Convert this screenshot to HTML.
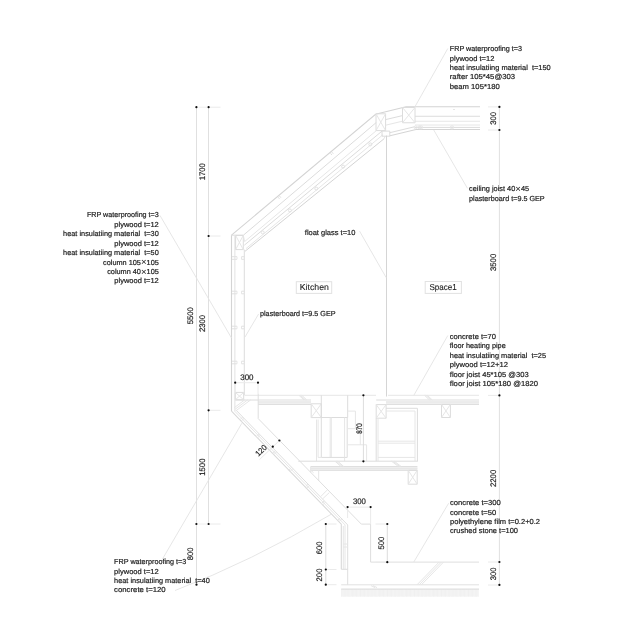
<!DOCTYPE html>
<html><head><meta charset="utf-8"><title>section</title>
<style>
html,body{margin:0;padding:0;background:#fff;}
body{width:640px;height:642px;overflow:hidden;font-family:"Liberation Sans",sans-serif;}
svg{display:block;will-change:transform;filter:grayscale(1);}
text{font-family:"Liberation Sans",sans-serif;text-rendering:geometricPrecision;}
</style></head><body>
<svg width="640" height="642" viewBox="0 0 640 642">
<rect width="640" height="642" fill="#fff"/>
<g fill="none" stroke="#dcdcdc" stroke-width="1">
<line x1="196.50" y1="107.20" x2="196.50" y2="584.70" stroke="#e0e0e0"/>
<line x1="208.50" y1="107.20" x2="208.50" y2="524.00" stroke="#e0e0e0"/>
<line x1="210.00" y1="107.20" x2="220.50" y2="107.20" stroke="#eaeaea"/>
<line x1="210.00" y1="236.00" x2="220.50" y2="236.00" stroke="#eaeaea"/>
<line x1="210.00" y1="410.30" x2="220.50" y2="410.30" stroke="#eaeaea"/>
<line x1="210.00" y1="524.00" x2="220.50" y2="524.00" stroke="#eaeaea"/>
<line x1="198.50" y1="107.20" x2="207.00" y2="107.20" stroke="#eeeeee"/>
<line x1="198.50" y1="524.00" x2="207.00" y2="524.00" stroke="#eeeeee"/>
<line x1="499.40" y1="106.90" x2="499.40" y2="585.00" stroke="#e0e0e0"/>
<line x1="488.00" y1="106.90" x2="498.00" y2="106.90" stroke="#eaeaea"/>
<line x1="488.00" y1="130.00" x2="498.00" y2="130.00" stroke="#eaeaea"/>
<line x1="488.00" y1="395.40" x2="498.00" y2="395.40" stroke="#eaeaea"/>
<line x1="488.00" y1="562.00" x2="498.00" y2="562.00" stroke="#eaeaea"/>
<line x1="488.00" y1="585.00" x2="498.00" y2="585.00" stroke="#eaeaea"/>
</g>
<g fill="none" stroke="#dcdcdc" stroke-width="1">
<path d="M231.50 235.20 L375.60 114.30 L406.00 106.80 L480.00 106.80" stroke="#d4d4d4" stroke-width="1.1"/>
<line x1="243.40" y1="235.20" x2="376.25" y2="122.50"/>
<line x1="244.60" y1="241.60" x2="376.25" y2="130.70" stroke="#e6e6e6"/>
<line x1="244.30" y1="245.20" x2="382.00" y2="131.10"/>
<line x1="246.00" y1="248.60" x2="383.10" y2="134.60" stroke="#e6e6e6"/>
<line x1="244.90" y1="251.40" x2="383.90" y2="138.90" stroke="#d4d4d4"/>
<line x1="383.90" y1="138.90" x2="385.20" y2="136.20" stroke="#e6e6e6"/>
<circle cx="262.7" cy="232.4" r="1.5" stroke="#e2e2e2"/>
<circle cx="289.9" cy="210.4" r="1.5" stroke="#e2e2e2"/>
<circle cx="316.3" cy="188.6" r="1.5" stroke="#e2e2e2"/>
<circle cx="343.1" cy="166.6" r="1.5" stroke="#e2e2e2"/>
<circle cx="370.3" cy="144.4" r="1.5" stroke="#e2e2e2"/>
<line x1="278.10" y1="197.20" x2="279.50" y2="198.90" stroke="#e0e0e0"/>
<line x1="279.50" y1="196.00" x2="280.90" y2="197.70" stroke="#e0e0e0"/>
<line x1="330.50" y1="153.30" x2="331.90" y2="155.00" stroke="#e0e0e0"/>
<line x1="331.90" y1="152.10" x2="333.30" y2="153.80" stroke="#e0e0e0"/>
<line x1="415.00" y1="116.25" x2="480.00" y2="116.25"/>
<line x1="415.00" y1="121.25" x2="480.00" y2="121.25" stroke="#e6e6e6"/>
<line x1="415.00" y1="125.00" x2="480.00" y2="125.00" stroke="#e6e6e6"/>
<line x1="415.00" y1="127.40" x2="480.00" y2="127.40"/>
<line x1="415.00" y1="129.50" x2="480.00" y2="129.50" stroke="#d4d4d4"/>
<circle cx="421" cy="127.4" r="1.6" stroke="#e6e6e6"/>
<circle cx="452" cy="127.4" r="1.6" stroke="#e6e6e6"/>
<line x1="453.00" y1="109.50" x2="455.00" y2="109.50" stroke="#e6e6e6"/>
<path d="M402.50 107.50 L415.00 107.50 L415.00 122.75 L402.50 122.75 Z"/>
<line x1="402.50" y1="107.50" x2="415.00" y2="122.75" stroke="#e6e6e6"/>
<line x1="402.50" y1="122.75" x2="415.00" y2="107.50" stroke="#e6e6e6"/>
<path d="M376.00 113.80 L385.60 113.80 L385.60 130.60 L376.00 130.60 Z"/>
<line x1="376.00" y1="113.80" x2="385.60" y2="130.60" stroke="#e6e6e6"/>
<line x1="376.00" y1="130.60" x2="385.60" y2="113.80" stroke="#e6e6e6"/>
<line x1="385.60" y1="119.60" x2="402.50" y2="115.60"/>
<line x1="385.60" y1="125.20" x2="402.50" y2="121.20" stroke="#e6e6e6"/>
<path d="M382.00 131.10 L389.80 131.10 L389.80 136.20 L382.00 136.20 Z"/>
<path d="M389.80 132.70 L414.00 126.90 L415.00 126.90"/>
<path d="M389.80 135.80 L416.00 129.50" stroke="#d4d4d4"/>
<circle cx="415.6" cy="127.4" r="1.5" stroke="#e6e6e6"/><circle cx="419.3" cy="127.4" r="1.5" stroke="#e6e6e6"/>
<line x1="386.50" y1="135.60" x2="386.50" y2="396.50" stroke="#d5d5d5"/>
<line x1="231.50" y1="235.20" x2="231.50" y2="411.20" stroke="#d4d4d4" stroke-width="1.1"/>
<line x1="234.90" y1="236.00" x2="234.90" y2="411.40" stroke="#e2e2e2"/>
<line x1="244.30" y1="249.60" x2="244.30" y2="395.20" stroke="#dddddd"/>
<line x1="231.50" y1="235.20" x2="243.40" y2="235.20"/>
<path d="M235.60 235.40 L243.30 235.40 L243.30 249.60 L235.60 249.60 Z"/>
<line x1="235.60" y1="235.40" x2="243.30" y2="249.60" stroke="#e6e6e6"/>
<line x1="235.60" y1="249.60" x2="243.30" y2="235.40" stroke="#e6e6e6"/>
<line x1="243.30" y1="235.40" x2="244.60" y2="241.60" stroke="#e6e6e6"/>
<line x1="232.00" y1="256.70" x2="237.00" y2="256.70" stroke="#e0e0e0"/>
<line x1="241.50" y1="256.70" x2="244.30" y2="256.70" stroke="#e0e0e0"/>
<line x1="232.00" y1="259.30" x2="237.00" y2="259.30" stroke="#e0e0e0"/>
<line x1="241.50" y1="259.30" x2="244.30" y2="259.30" stroke="#e0e0e0"/>
<line x1="237.00" y1="256.70" x2="237.00" y2="259.30" stroke="#e6e6e6"/>
<line x1="241.50" y1="256.70" x2="241.50" y2="259.30" stroke="#e6e6e6"/>
<line x1="232.00" y1="291.20" x2="237.00" y2="291.20" stroke="#e0e0e0"/>
<line x1="241.50" y1="291.20" x2="244.30" y2="291.20" stroke="#e0e0e0"/>
<line x1="232.00" y1="293.80" x2="237.00" y2="293.80" stroke="#e0e0e0"/>
<line x1="241.50" y1="293.80" x2="244.30" y2="293.80" stroke="#e0e0e0"/>
<line x1="237.00" y1="291.20" x2="237.00" y2="293.80" stroke="#e6e6e6"/>
<line x1="241.50" y1="291.20" x2="241.50" y2="293.80" stroke="#e6e6e6"/>
<line x1="232.00" y1="326.20" x2="237.00" y2="326.20" stroke="#e0e0e0"/>
<line x1="241.50" y1="326.20" x2="244.30" y2="326.20" stroke="#e0e0e0"/>
<line x1="232.00" y1="328.80" x2="237.00" y2="328.80" stroke="#e0e0e0"/>
<line x1="241.50" y1="328.80" x2="244.30" y2="328.80" stroke="#e0e0e0"/>
<line x1="237.00" y1="326.20" x2="237.00" y2="328.80" stroke="#e6e6e6"/>
<line x1="241.50" y1="326.20" x2="241.50" y2="328.80" stroke="#e6e6e6"/>
<line x1="232.00" y1="361.20" x2="237.00" y2="361.20" stroke="#e0e0e0"/>
<line x1="241.50" y1="361.20" x2="244.30" y2="361.20" stroke="#e0e0e0"/>
<line x1="232.00" y1="363.80" x2="237.00" y2="363.80" stroke="#e0e0e0"/>
<line x1="241.50" y1="363.80" x2="244.30" y2="363.80" stroke="#e0e0e0"/>
<line x1="237.00" y1="361.20" x2="237.00" y2="363.80" stroke="#e6e6e6"/>
<line x1="241.50" y1="361.20" x2="241.50" y2="363.80" stroke="#e6e6e6"/>
<line x1="244.60" y1="395.30" x2="376.00" y2="395.30" stroke="#e6e6e6"/>
<line x1="388.00" y1="395.30" x2="479.00" y2="395.30" stroke="#e6e6e6"/>
<line x1="235.40" y1="400.00" x2="311.00" y2="400.00"/>
<line x1="376.20" y1="400.00" x2="479.00" y2="400.00"/>
<rect x="258.2" y="400.6" width="52.8" height="3.9" fill="#f1f1f1" stroke="none"/>
<rect x="386" y="400.6" width="93" height="3.9" fill="#f1f1f1" stroke="none"/>
<line x1="258.20" y1="404.40" x2="311.00" y2="404.40"/>
<line x1="386.00" y1="404.40" x2="479.00" y2="404.40"/>
<line x1="258.20" y1="402.00" x2="311.00" y2="402.00" stroke="#e6e6e6"/>
<line x1="386.00" y1="402.00" x2="479.00" y2="402.00" stroke="#e6e6e6"/>
<path d="M235.30 392.40 L243.70 392.40 L243.70 399.80 L235.30 399.80 Z"/>
<line x1="235.30" y1="392.40" x2="243.70" y2="399.80" stroke="#e6e6e6"/>
<line x1="235.30" y1="399.80" x2="243.70" y2="392.40" stroke="#e6e6e6"/>
<path d="M311.20 403.80 L321.30 403.80 L321.30 417.60 L311.20 417.60 Z"/>
<line x1="311.20" y1="403.80" x2="321.30" y2="417.60" stroke="#e6e6e6"/>
<line x1="311.20" y1="417.60" x2="321.30" y2="403.80" stroke="#e6e6e6"/>
<path d="M376.20 404.60 L386.10 404.60 L386.10 418.20 L376.20 418.20 Z"/>
<line x1="376.20" y1="404.60" x2="386.10" y2="418.20" stroke="#e6e6e6"/>
<line x1="376.20" y1="418.20" x2="386.10" y2="404.60" stroke="#e6e6e6"/>
<path d="M441.50 404.40 L450.40 404.40 L450.40 417.50 L441.50 417.50 Z"/>
<line x1="441.50" y1="404.40" x2="450.40" y2="417.50" stroke="#e6e6e6"/>
<line x1="441.50" y1="417.50" x2="450.40" y2="404.40" stroke="#e6e6e6"/>
<path d="M321.30 395.30 L321.30 417.50 L347.70 417.50 L347.70 395.30"/>
<line x1="321.30" y1="417.50" x2="321.30" y2="457.40" stroke="#dcdcdc"/>
<line x1="330.20" y1="417.50" x2="330.20" y2="457.40" stroke="#e6e6e6"/>
<line x1="331.30" y1="417.50" x2="331.30" y2="457.40" stroke="#e6e6e6"/>
<line x1="344.60" y1="417.50" x2="344.60" y2="457.40" stroke="#e6e6e6"/>
<line x1="347.20" y1="417.50" x2="347.20" y2="457.40" stroke="#dcdcdc"/>
<line x1="321.30" y1="457.40" x2="347.20" y2="457.40"/>
<line x1="316.50" y1="419.50" x2="316.50" y2="461.20" stroke="#e6e6e6"/>
<line x1="318.10" y1="419.50" x2="318.10" y2="457.40" stroke="#e6e6e6"/>
<line x1="318.10" y1="457.40" x2="321.30" y2="457.40" stroke="#e6e6e6"/>
<line x1="344.60" y1="457.40" x2="344.60" y2="461.20" stroke="#e6e6e6"/>
<path d="M347.70 411.10 L355.40 411.10 L355.40 428.70 L347.70 428.70" stroke="#e6e6e6"/>
<path d="M360.30 428.70 L360.30 444.80" stroke="#e6e6e6"/>
<path d="M347.70 444.80 L366.60 444.80 L366.60 461.20" stroke="#e6e6e6"/>
<path d="M386.10 408.30 L417.40 408.30 L417.40 461.60"/>
<path d="M386.10 411.00 L415.00 411.00 L415.00 461.00" stroke="#e6e6e6"/>
<line x1="376.20" y1="418.20" x2="376.20" y2="461.20"/>
<line x1="378.00" y1="418.20" x2="378.00" y2="461.20" stroke="#e6e6e6"/>
<line x1="378.00" y1="441.20" x2="415.00" y2="441.20" stroke="#e6e6e6"/>
<line x1="378.00" y1="443.20" x2="415.00" y2="443.20" stroke="#e6e6e6"/>
<line x1="378.00" y1="457.40" x2="415.00" y2="457.40" stroke="#e6e6e6"/>
<line x1="298.30" y1="461.20" x2="417.40" y2="461.20"/>
<rect x="310.7" y="466.6" width="106.7" height="3.7" fill="#f1f1f1" stroke="none"/>
<line x1="310.70" y1="466.60" x2="417.40" y2="466.60"/>
<line x1="310.70" y1="468.40" x2="417.40" y2="468.40" stroke="#e6e6e6"/>
<line x1="310.70" y1="470.30" x2="417.40" y2="470.30"/>
<line x1="310.70" y1="466.60" x2="310.70" y2="472.50" stroke="#e6e6e6"/>
<line x1="318.70" y1="470.30" x2="318.70" y2="481.00" stroke="#e6e6e6"/>
<line x1="310.70" y1="470.30" x2="313.50" y2="472.60" stroke="#e6e6e6"/>
<path d="M408.20 470.30 L417.20 470.30 L417.20 484.20 L408.20 484.20 Z"/>
<line x1="408.20" y1="470.30" x2="417.20" y2="484.20" stroke="#e6e6e6"/>
<line x1="408.20" y1="484.20" x2="417.20" y2="470.30" stroke="#e6e6e6"/>
<line x1="299.00" y1="395.30" x2="304.00" y2="400.00" stroke="#e6e6e6"/>
<line x1="300.40" y1="395.30" x2="305.40" y2="400.00" stroke="#e6e6e6"/>
<line x1="301.80" y1="395.30" x2="306.80" y2="400.00" stroke="#e6e6e6"/>
<line x1="424.50" y1="395.30" x2="429.50" y2="400.00" stroke="#e6e6e6"/>
<line x1="425.90" y1="395.30" x2="430.90" y2="400.00" stroke="#e6e6e6"/>
<line x1="427.30" y1="395.30" x2="432.30" y2="400.00" stroke="#e6e6e6"/>
<line x1="335.00" y1="461.20" x2="341.00" y2="466.60" stroke="#e6e6e6"/>
<line x1="336.40" y1="461.20" x2="342.40" y2="466.60" stroke="#e6e6e6"/>
<line x1="337.80" y1="461.20" x2="343.80" y2="466.60" stroke="#e6e6e6"/>
<line x1="391.50" y1="461.20" x2="398.50" y2="466.60" stroke="#e6e6e6"/>
<line x1="392.90" y1="461.20" x2="399.90" y2="466.60" stroke="#e6e6e6"/>
<line x1="394.30" y1="461.20" x2="401.30" y2="466.60" stroke="#e6e6e6"/>
<path d="M231.50 411.20 L341.30 524.10 L341.30 569.30" stroke="#d8d8d8" stroke-width="1.05"/>
<path d="M234.90 411.40 L344.40 524.20 L345.00 525.00 L345.00 569.30" stroke="#e6e6e6"/>
<path d="M236.30 410.40 L347.70 524.90 L347.70 584.90" stroke="#dedede"/>
<path d="M258.20 393.50 L258.20 418.60 L361.30 524.10 L370.60 524.10 L370.60 562.10 L479.00 562.10" stroke="#dedede"/>
<line x1="343.30" y1="526.00" x2="343.30" y2="569.30" stroke="#e6e6e6"/>
<path d="M250.80 399.80 L235.90 410.80" stroke="#e6e6e6"/>
<path d="M247.70 399.80 L235.20 409.20" stroke="#e6e6e6"/>
<path d="M244.80 399.80 L234.40 407.60" stroke="#e6e6e6"/>
<line x1="341.30" y1="569.30" x2="347.70" y2="569.30"/>
<line x1="343.30" y1="544.00" x2="347.70" y2="544.00" stroke="#e6e6e6"/>
<line x1="343.30" y1="547.00" x2="347.70" y2="547.00" stroke="#e6e6e6"/>
<line x1="327.10" y1="490.10" x2="320.60" y2="496.70" stroke="#e6e6e6"/>
<line x1="329.30" y1="492.60" x2="322.70" y2="498.80" stroke="#e6e6e6"/>
<line x1="239.90" y1="419.84" x2="242.70" y2="417.04" stroke="#e6e6e6"/>
<line x1="241.20" y1="421.14" x2="244.00" y2="418.34" stroke="#e6e6e6"/>
<line x1="256.20" y1="436.60" x2="259.00" y2="433.80" stroke="#e6e6e6"/>
<line x1="257.50" y1="437.90" x2="260.30" y2="435.10" stroke="#e6e6e6"/>
<line x1="272.50" y1="453.36" x2="275.30" y2="450.56" stroke="#e6e6e6"/>
<line x1="273.80" y1="454.66" x2="276.60" y2="451.86" stroke="#e6e6e6"/>
<line x1="288.80" y1="470.12" x2="291.60" y2="467.32" stroke="#e6e6e6"/>
<line x1="290.10" y1="471.42" x2="292.90" y2="468.62" stroke="#e6e6e6"/>
<line x1="305.20" y1="486.98" x2="308.00" y2="484.18" stroke="#e6e6e6"/>
<line x1="306.50" y1="488.28" x2="309.30" y2="485.48" stroke="#e6e6e6"/>
<line x1="321.40" y1="503.64" x2="324.20" y2="500.84" stroke="#e6e6e6"/>
<line x1="322.70" y1="504.94" x2="325.50" y2="502.14" stroke="#e6e6e6"/>
<line x1="337.70" y1="520.39" x2="340.50" y2="517.59" stroke="#e6e6e6"/>
<line x1="339.00" y1="521.69" x2="341.80" y2="518.89" stroke="#e6e6e6"/>
<line x1="341.20" y1="584.80" x2="479.00" y2="584.80" stroke="#e2e2e2"/>
<rect x="341.2" y="589.4" width="137.8" height="7.3" fill="#f9f9f9" stroke="none"/>
<line x1="443.50" y1="562.10" x2="421.30" y2="584.90" stroke="#e6e6e6"/>
<line x1="441.30" y1="562.10" x2="419.10" y2="584.90" stroke="#e6e6e6"/>
<line x1="439.10" y1="562.10" x2="416.90" y2="584.90" stroke="#e6e6e6"/>
<line x1="371.00" y1="585.60" x2="375.00" y2="587.60" stroke="#e6e6e6"/>
<line x1="373.00" y1="585.60" x2="377.00" y2="587.60" stroke="#e6e6e6"/>
</g>
<g stroke="#e9e9e9" stroke-width="0.55">
<line x1="341.60" y1="589.40" x2="341.60" y2="596.70"/>
<line x1="342.95" y1="589.40" x2="342.95" y2="596.70"/>
<line x1="344.30" y1="589.40" x2="344.30" y2="596.70"/>
<line x1="345.65" y1="589.40" x2="345.65" y2="596.70"/>
<line x1="347.00" y1="589.40" x2="347.00" y2="596.70"/>
<line x1="348.35" y1="589.40" x2="348.35" y2="596.70"/>
<line x1="349.70" y1="589.40" x2="349.70" y2="596.70"/>
<line x1="351.05" y1="589.40" x2="351.05" y2="596.70"/>
<line x1="352.40" y1="589.40" x2="352.40" y2="596.70"/>
<line x1="353.75" y1="589.40" x2="353.75" y2="596.70"/>
<line x1="355.10" y1="589.40" x2="355.10" y2="596.70"/>
<line x1="356.45" y1="589.40" x2="356.45" y2="596.70"/>
<line x1="357.80" y1="589.40" x2="357.80" y2="596.70"/>
<line x1="359.15" y1="589.40" x2="359.15" y2="596.70"/>
<line x1="360.50" y1="589.40" x2="360.50" y2="596.70"/>
<line x1="361.85" y1="589.40" x2="361.85" y2="596.70"/>
<line x1="363.20" y1="589.40" x2="363.20" y2="596.70"/>
<line x1="364.55" y1="589.40" x2="364.55" y2="596.70"/>
<line x1="365.90" y1="589.40" x2="365.90" y2="596.70"/>
<line x1="367.25" y1="589.40" x2="367.25" y2="596.70"/>
<line x1="368.60" y1="589.40" x2="368.60" y2="596.70"/>
<line x1="369.95" y1="589.40" x2="369.95" y2="596.70"/>
<line x1="371.30" y1="589.40" x2="371.30" y2="596.70"/>
<line x1="372.65" y1="589.40" x2="372.65" y2="596.70"/>
<line x1="374.00" y1="589.40" x2="374.00" y2="596.70"/>
<line x1="375.35" y1="589.40" x2="375.35" y2="596.70"/>
<line x1="376.70" y1="589.40" x2="376.70" y2="596.70"/>
<line x1="378.05" y1="589.40" x2="378.05" y2="596.70"/>
<line x1="379.40" y1="589.40" x2="379.40" y2="596.70"/>
<line x1="380.75" y1="589.40" x2="380.75" y2="596.70"/>
<line x1="382.10" y1="589.40" x2="382.10" y2="596.70"/>
<line x1="383.45" y1="589.40" x2="383.45" y2="596.70"/>
<line x1="384.80" y1="589.40" x2="384.80" y2="596.70"/>
<line x1="386.15" y1="589.40" x2="386.15" y2="596.70"/>
<line x1="387.50" y1="589.40" x2="387.50" y2="596.70"/>
<line x1="388.85" y1="589.40" x2="388.85" y2="596.70"/>
<line x1="390.20" y1="589.40" x2="390.20" y2="596.70"/>
<line x1="391.55" y1="589.40" x2="391.55" y2="596.70"/>
<line x1="392.90" y1="589.40" x2="392.90" y2="596.70"/>
<line x1="394.25" y1="589.40" x2="394.25" y2="596.70"/>
<line x1="395.60" y1="589.40" x2="395.60" y2="596.70"/>
<line x1="396.95" y1="589.40" x2="396.95" y2="596.70"/>
<line x1="398.30" y1="589.40" x2="398.30" y2="596.70"/>
<line x1="399.65" y1="589.40" x2="399.65" y2="596.70"/>
<line x1="401.00" y1="589.40" x2="401.00" y2="596.70"/>
<line x1="402.35" y1="589.40" x2="402.35" y2="596.70"/>
<line x1="403.70" y1="589.40" x2="403.70" y2="596.70"/>
<line x1="405.05" y1="589.40" x2="405.05" y2="596.70"/>
<line x1="406.40" y1="589.40" x2="406.40" y2="596.70"/>
<line x1="407.75" y1="589.40" x2="407.75" y2="596.70"/>
<line x1="409.10" y1="589.40" x2="409.10" y2="596.70"/>
<line x1="410.45" y1="589.40" x2="410.45" y2="596.70"/>
<line x1="411.80" y1="589.40" x2="411.80" y2="596.70"/>
<line x1="413.15" y1="589.40" x2="413.15" y2="596.70"/>
<line x1="414.50" y1="589.40" x2="414.50" y2="596.70"/>
<line x1="415.85" y1="589.40" x2="415.85" y2="596.70"/>
<line x1="417.20" y1="589.40" x2="417.20" y2="596.70"/>
<line x1="418.55" y1="589.40" x2="418.55" y2="596.70"/>
<line x1="419.90" y1="589.40" x2="419.90" y2="596.70"/>
<line x1="421.25" y1="589.40" x2="421.25" y2="596.70"/>
<line x1="422.60" y1="589.40" x2="422.60" y2="596.70"/>
<line x1="423.95" y1="589.40" x2="423.95" y2="596.70"/>
<line x1="425.30" y1="589.40" x2="425.30" y2="596.70"/>
<line x1="426.65" y1="589.40" x2="426.65" y2="596.70"/>
<line x1="428.00" y1="589.40" x2="428.00" y2="596.70"/>
<line x1="429.35" y1="589.40" x2="429.35" y2="596.70"/>
<line x1="430.70" y1="589.40" x2="430.70" y2="596.70"/>
<line x1="432.05" y1="589.40" x2="432.05" y2="596.70"/>
<line x1="433.40" y1="589.40" x2="433.40" y2="596.70"/>
<line x1="434.75" y1="589.40" x2="434.75" y2="596.70"/>
<line x1="436.10" y1="589.40" x2="436.10" y2="596.70"/>
<line x1="437.45" y1="589.40" x2="437.45" y2="596.70"/>
<line x1="438.80" y1="589.40" x2="438.80" y2="596.70"/>
<line x1="440.15" y1="589.40" x2="440.15" y2="596.70"/>
<line x1="441.50" y1="589.40" x2="441.50" y2="596.70"/>
<line x1="442.85" y1="589.40" x2="442.85" y2="596.70"/>
<line x1="444.20" y1="589.40" x2="444.20" y2="596.70"/>
<line x1="445.55" y1="589.40" x2="445.55" y2="596.70"/>
<line x1="446.90" y1="589.40" x2="446.90" y2="596.70"/>
<line x1="448.25" y1="589.40" x2="448.25" y2="596.70"/>
<line x1="449.60" y1="589.40" x2="449.60" y2="596.70"/>
<line x1="450.95" y1="589.40" x2="450.95" y2="596.70"/>
<line x1="452.30" y1="589.40" x2="452.30" y2="596.70"/>
<line x1="453.65" y1="589.40" x2="453.65" y2="596.70"/>
<line x1="455.00" y1="589.40" x2="455.00" y2="596.70"/>
<line x1="456.35" y1="589.40" x2="456.35" y2="596.70"/>
<line x1="457.70" y1="589.40" x2="457.70" y2="596.70"/>
<line x1="459.05" y1="589.40" x2="459.05" y2="596.70"/>
<line x1="460.40" y1="589.40" x2="460.40" y2="596.70"/>
<line x1="461.75" y1="589.40" x2="461.75" y2="596.70"/>
<line x1="463.10" y1="589.40" x2="463.10" y2="596.70"/>
<line x1="464.45" y1="589.40" x2="464.45" y2="596.70"/>
<line x1="465.80" y1="589.40" x2="465.80" y2="596.70"/>
<line x1="467.15" y1="589.40" x2="467.15" y2="596.70"/>
<line x1="468.50" y1="589.40" x2="468.50" y2="596.70"/>
<line x1="469.85" y1="589.40" x2="469.85" y2="596.70"/>
<line x1="471.20" y1="589.40" x2="471.20" y2="596.70"/>
<line x1="472.55" y1="589.40" x2="472.55" y2="596.70"/>
<line x1="473.90" y1="589.40" x2="473.90" y2="596.70"/>
<line x1="475.25" y1="589.40" x2="475.25" y2="596.70"/>
<line x1="476.60" y1="589.40" x2="476.60" y2="596.70"/>
<line x1="477.95" y1="589.40" x2="477.95" y2="596.70"/>
</g>
<line x1="341.2" y1="589.1" x2="479" y2="589.1" stroke="#d8d8d8" stroke-width="1"/>
<g fill="none" stroke="#eaeaea" stroke-width="1">
<line x1="237.00" y1="382.70" x2="256.50" y2="382.70"/>
<line x1="235.20" y1="384.20" x2="235.20" y2="392.00"/>
<line x1="258.00" y1="384.20" x2="258.00" y2="393.50"/>
<line x1="363.40" y1="396.80" x2="363.40" y2="460.00" stroke="#dddddd"/>
<line x1="349.20" y1="507.10" x2="369.00" y2="507.10"/>
<line x1="347.60" y1="508.60" x2="347.60" y2="518.00"/>
<line x1="370.60" y1="508.60" x2="370.60" y2="524.00"/>
<line x1="325.80" y1="524.00" x2="325.80" y2="584.70" stroke="#dddddd"/>
<line x1="327.30" y1="524.00" x2="336.50" y2="524.00"/>
<line x1="327.30" y1="569.50" x2="336.50" y2="569.50"/>
<line x1="327.30" y1="584.70" x2="336.50" y2="584.70"/>
<line x1="387.30" y1="524.00" x2="387.30" y2="562.20" stroke="#dddddd"/>
<line x1="375.50" y1="524.00" x2="385.80" y2="524.00"/>
<line x1="375.50" y1="562.20" x2="385.80" y2="562.20"/>
<line x1="278.40" y1="441.50" x2="259.50" y2="459.60"/>
</g>
<g fill="none" stroke="#e3e3e3" stroke-width="0.9">
<line x1="160.00" y1="215.50" x2="231.50" y2="338.00"/>
<line x1="258.60" y1="314.00" x2="245.00" y2="337.00"/>
<line x1="447.80" y1="48.50" x2="414.50" y2="107.50"/>
<line x1="467.50" y1="188.40" x2="433.75" y2="130.00"/>
<line x1="359.60" y1="231.20" x2="386.20" y2="277.60"/>
<line x1="447.80" y1="335.50" x2="413.80" y2="395.40"/>
<line x1="448.60" y1="503.30" x2="413.80" y2="562.00"/>
<line x1="162.30" y1="559.30" x2="241.80" y2="423.30"/>
<path d="M175 590.5 Q 250 562 331.7 514"/>
</g>
<circle cx="196.40" cy="107.20" r="1.12" fill="#0c0c0c" stroke="none"/>
<circle cx="208.60" cy="107.20" r="1.12" fill="#0c0c0c" stroke="none"/>
<circle cx="208.60" cy="236.00" r="1.12" fill="#0c0c0c" stroke="none"/>
<circle cx="208.60" cy="410.30" r="1.12" fill="#0c0c0c" stroke="none"/>
<circle cx="208.60" cy="524.00" r="1.12" fill="#0c0c0c" stroke="none"/>
<circle cx="196.40" cy="524.00" r="1.12" fill="#0c0c0c" stroke="none"/>
<circle cx="196.50" cy="584.70" r="1.12" fill="#0c0c0c" stroke="none"/>
<circle cx="499.40" cy="106.90" r="1.12" fill="#0c0c0c" stroke="none"/>
<circle cx="499.40" cy="130.00" r="1.12" fill="#0c0c0c" stroke="none"/>
<circle cx="499.40" cy="395.40" r="1.12" fill="#0c0c0c" stroke="none"/>
<circle cx="499.40" cy="562.00" r="1.12" fill="#0c0c0c" stroke="none"/>
<circle cx="499.40" cy="584.90" r="1.12" fill="#0c0c0c" stroke="none"/>
<circle cx="235.20" cy="382.70" r="1.12" fill="#0c0c0c" stroke="none"/>
<circle cx="258.00" cy="382.70" r="1.12" fill="#0c0c0c" stroke="none"/>
<circle cx="363.40" cy="395.30" r="1.12" fill="#0c0c0c" stroke="none"/>
<circle cx="363.40" cy="461.30" r="1.12" fill="#0c0c0c" stroke="none"/>
<circle cx="279.40" cy="440.50" r="1.12" fill="#0c0c0c" stroke="none"/>
<circle cx="272.80" cy="446.70" r="1.12" fill="#0c0c0c" stroke="none"/>
<circle cx="347.60" cy="507.10" r="1.12" fill="#0c0c0c" stroke="none"/>
<circle cx="370.60" cy="507.10" r="1.12" fill="#0c0c0c" stroke="none"/>
<circle cx="325.80" cy="524.00" r="1.12" fill="#0c0c0c" stroke="none"/>
<circle cx="325.80" cy="569.50" r="1.12" fill="#0c0c0c" stroke="none"/>
<circle cx="325.80" cy="584.70" r="1.12" fill="#0c0c0c" stroke="none"/>
<circle cx="387.30" cy="524.00" r="1.12" fill="#0c0c0c" stroke="none"/>
<circle cx="387.30" cy="562.20" r="1.12" fill="#0c0c0c" stroke="none"/>
<g fill="#1c1c1c" stroke="#1c1c1c" stroke-width="0.19" font-family="'Liberation Sans', sans-serif" style="white-space:pre">
<text font-size="7.3" x="449.80" y="51.10" textLength="72.2" lengthAdjust="spacingAndGlyphs">FRP waterproofing t=3</text>
<text font-size="7.3" x="449.80" y="60.50" textLength="44.6" lengthAdjust="spacingAndGlyphs">plywood t=12</text>
<text font-size="7.3" x="449.80" y="69.90" textLength="100.9" lengthAdjust="spacingAndGlyphs">heat insulatiing material &#160;t=150</text>
<text font-size="7.3" x="449.80" y="79.30" textLength="65.3" lengthAdjust="spacingAndGlyphs">rafter 105*45@303</text>
<text font-size="7.3" x="449.80" y="88.70" textLength="49.9" lengthAdjust="spacingAndGlyphs">beam 105*180</text>
<text font-size="7.3" x="86.90" y="217.20" textLength="71.9" lengthAdjust="spacingAndGlyphs">FRP waterproofing t=3</text>
<text font-size="7.3" x="114.30" y="226.66" textLength="44.5" lengthAdjust="spacingAndGlyphs">plywood t=12</text>
<text font-size="7.3" x="63.10" y="236.12" textLength="95.7" lengthAdjust="spacingAndGlyphs">heat insulatiing material &#160;t=30</text>
<text font-size="7.3" x="114.30" y="245.58" textLength="44.5" lengthAdjust="spacingAndGlyphs">plywood t=12</text>
<text font-size="7.3" x="63.10" y="255.04" textLength="95.7" lengthAdjust="spacingAndGlyphs">heat insulatiing material &#160;t=50</text>
<text font-size="7.3" x="103.10" y="264.50" textLength="55.7" lengthAdjust="spacingAndGlyphs">column 105<tspan font-size="9.6" stroke="none" dy="0.9">×</tspan><tspan dy="-0.9">105</tspan></text>
<text font-size="7.3" x="107.20" y="273.96" textLength="51.6" lengthAdjust="spacingAndGlyphs">column 40<tspan font-size="9.6" stroke="none" dy="0.9">×</tspan><tspan dy="-0.9">105</tspan></text>
<text font-size="7.3" x="114.30" y="283.42" textLength="44.5" lengthAdjust="spacingAndGlyphs">plywood t=12</text>
<text font-size="7.3" x="449.80" y="339.00" textLength="46.2" lengthAdjust="spacingAndGlyphs">concrete t=70</text>
<text font-size="7.3" x="449.80" y="348.42" textLength="55.9" lengthAdjust="spacingAndGlyphs">floor heating pipe</text>
<text font-size="7.3" x="449.80" y="357.84" textLength="96.2" lengthAdjust="spacingAndGlyphs">heat insulatiing material &#160;t=25</text>
<text font-size="7.3" x="449.80" y="367.26" textLength="58.2" lengthAdjust="spacingAndGlyphs">plywood t=12+12</text>
<text font-size="7.3" x="449.80" y="376.68" textLength="78.8" lengthAdjust="spacingAndGlyphs">floor joist 45*105 @303</text>
<text font-size="7.3" x="449.80" y="386.10" textLength="88.2" lengthAdjust="spacingAndGlyphs">floor joist 105*180 @1820</text>
<text font-size="7.3" x="450.00" y="505.40" textLength="50.8" lengthAdjust="spacingAndGlyphs">concrete t=300</text>
<text font-size="7.3" x="450.00" y="514.76" textLength="46.2" lengthAdjust="spacingAndGlyphs">concrete t=50</text>
<text font-size="7.3" x="450.00" y="524.12" textLength="90.0" lengthAdjust="spacingAndGlyphs">polyethylene film t=0.2+0.2</text>
<text font-size="7.3" x="450.00" y="533.48" textLength="68.0" lengthAdjust="spacingAndGlyphs">crushed stone t=100</text>
<text font-size="7.3" x="114.10" y="564.10" textLength="72.2" lengthAdjust="spacingAndGlyphs">FRP waterproofing t=3</text>
<text font-size="7.3" x="114.10" y="573.50" textLength="44.6" lengthAdjust="spacingAndGlyphs">plywood t=12</text>
<text font-size="7.3" x="114.10" y="582.90" textLength="95.7" lengthAdjust="spacingAndGlyphs">heat insulatiing material &#160;t=40</text>
<text font-size="7.3" x="114.10" y="592.30" textLength="51.6" lengthAdjust="spacingAndGlyphs">concrete t=120</text>
<text font-size="7.3" x="469.10" y="191.30" textLength="60.0" lengthAdjust="spacingAndGlyphs">ceiling joist 40<tspan font-size="9.6" stroke="none" dy="0.9">×</tspan><tspan dy="-0.9">45</tspan></text>
<text font-size="7.3" x="469.10" y="200.70" textLength="75.6" lengthAdjust="spacingAndGlyphs">plasterboard t=9.5 GEP</text>
<text font-size="7.3" x="304.80" y="234.50" textLength="50.6" lengthAdjust="spacingAndGlyphs">float glass t=10</text>
<text font-size="7.3" x="260.00" y="315.70" textLength="75.6" lengthAdjust="spacingAndGlyphs">plasterboard t=9.5 GEP</text>
<g stroke-width="0.1">
<text font-size="8.6" x="299.80" y="289.90" textLength="29.1" lengthAdjust="spacingAndGlyphs">Kitchen</text>
<text font-size="8.6" x="429.40" y="289.90" textLength="27.3" lengthAdjust="spacingAndGlyphs">Space1</text>
</g>
<text font-size="8.0" transform="translate(205.30,171.70) rotate(-90)" x="0" y="0" text-anchor="middle" textLength="17.2" lengthAdjust="spacingAndGlyphs">1700</text>
<text font-size="8.0" transform="translate(192.80,315.80) rotate(-90)" x="0" y="0" text-anchor="middle" textLength="17.0" lengthAdjust="spacingAndGlyphs">5500</text>
<text font-size="8.0" transform="translate(205.30,323.50) rotate(-90)" x="0" y="0" text-anchor="middle" textLength="17.1" lengthAdjust="spacingAndGlyphs">2300</text>
<text font-size="8.0" transform="translate(205.30,467.20) rotate(-90)" x="0" y="0" text-anchor="middle" textLength="17.3" lengthAdjust="spacingAndGlyphs">1500</text>
<text font-size="8.0" transform="translate(193.00,553.80) rotate(-90)" x="0" y="0" text-anchor="middle" textLength="12.8" lengthAdjust="spacingAndGlyphs">800</text>
<text font-size="8.0" transform="translate(495.80,118.30) rotate(-90)" x="0" y="0" text-anchor="middle" textLength="12.8" lengthAdjust="spacingAndGlyphs">300</text>
<text font-size="8.0" transform="translate(496.30,262.40) rotate(-90)" x="0" y="0" text-anchor="middle" textLength="17.2" lengthAdjust="spacingAndGlyphs">3500</text>
<text font-size="8.0" transform="translate(496.30,478.40) rotate(-90)" x="0" y="0" text-anchor="middle" textLength="17.2" lengthAdjust="spacingAndGlyphs">2200</text>
<text font-size="8.0" transform="translate(496.30,573.80) rotate(-90)" x="0" y="0" text-anchor="middle" textLength="12.8" lengthAdjust="spacingAndGlyphs">300</text>
<text font-size="8.0" transform="translate(362.00,428.50) rotate(-90)" x="0" y="0" text-anchor="middle" textLength="10.3" lengthAdjust="spacingAndGlyphs">870</text>
<text font-size="8.0" transform="translate(321.80,547.80) rotate(-90)" x="0" y="0" text-anchor="middle" textLength="12.8" lengthAdjust="spacingAndGlyphs">600</text>
<text font-size="8.0" transform="translate(321.80,575.00) rotate(-90)" x="0" y="0" text-anchor="middle" textLength="12.8" lengthAdjust="spacingAndGlyphs">200</text>
<text font-size="8.0" transform="translate(383.60,543.10) rotate(-90)" x="0" y="0" text-anchor="middle" textLength="12.8" lengthAdjust="spacingAndGlyphs">500</text>
<text font-size="8.0" x="246.90" y="379.80" text-anchor="middle" textLength="13.3" lengthAdjust="spacingAndGlyphs">300</text>
<text font-size="8.0" x="359.40" y="503.90" text-anchor="middle" textLength="13.0" lengthAdjust="spacingAndGlyphs">300</text>
<text font-size="8.0" transform="translate(263.00,452.40) rotate(-45)" x="0" y="0" text-anchor="middle" textLength="12.5" lengthAdjust="spacingAndGlyphs">120</text>
</g>
<g fill="none" stroke="#e2e2e2" stroke-width="1">
<rect x="296.3" y="281.7" width="35.4" height="11.7"/>
<rect x="425.2" y="281.5" width="36.2" height="11.9"/>
</g>
</svg>
</body></html>
